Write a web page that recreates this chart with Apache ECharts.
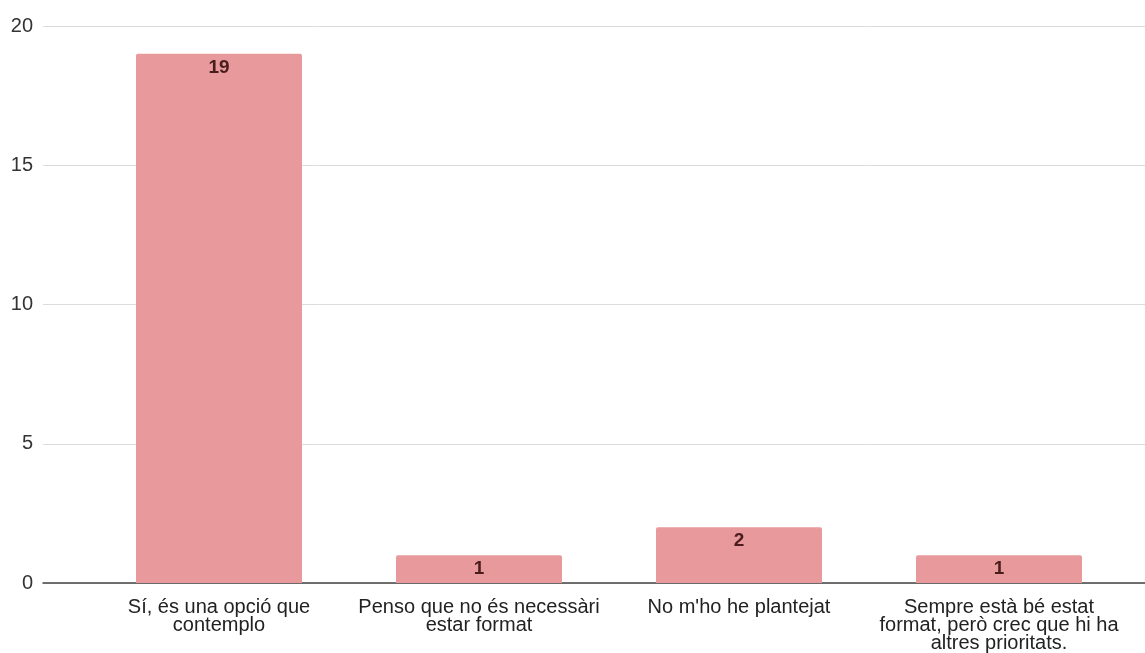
<!DOCTYPE html>
<html><head><meta charset="utf-8">
<script src="https://cdn.jsdelivr.net/npm/echarts@6/dist/echarts.min.js"></script>
<style>html,body{margin:0;padding:0;background:#fff}#c{width:1145px;height:653px}</style>
</head><body><div id="c"></div>
<script>
var categories = ["Sí, és una opció que\ncontemplo", "Penso que no és necessàri\nestar format", "No m'ho he plantejat", "Sempre està bé estat\nformat, però crec que hi ha\naltres prioritats."];
var values = [19, 1, 2, 1];
var yTicks = {min: 0, max: 20, interval: 5};
var font = "'Liberation Sans', Arial, Helvetica, sans-serif";
var chart = echarts.init(document.getElementById('c'));
chart.setOption({
  animation: false,
  grid: [
    {left: 43, right: 0, top: 26, bottom: 70},
    {left: 89, right: 16, top: 26, bottom: 70}
  ],
  xAxis: [
    {gridIndex: 0, type: 'value', min: 0, max: 1, show: true, axisLine: {show: true, lineStyle: {color: '#444', width: 1.5}}, axisTick: {show: false}, axisLabel: {show: false}, splitLine: {show: false}},
    {gridIndex: 1, type: 'category', data: categories, axisLine: {show: false}, axisTick: {show: false},
      axisLabel: {color: '#222', fontFamily: font, fontSize: 20, lineHeight: 18, margin: 15, interval: 0}}
  ],
  yAxis: [
    {gridIndex: 0, type: 'value', min: yTicks.min, max: yTicks.max, interval: yTicks.interval,
      axisLine: {show: false}, axisTick: {show: false},
      axisLabel: {color: '#333', fontFamily: font, fontSize: 20, margin: 10},
      splitLine: {lineStyle: {color: '#dcdcdc', width: 1}}},
    {gridIndex: 1, type: 'value', min: yTicks.min, max: yTicks.max, show: false, splitLine: {show: false}}
  ],
  series: [{
    type: 'bar', xAxisIndex: 1, yAxisIndex: 1, data: values, barWidth: 166,
    itemStyle: {color: '#e8999b', borderRadius: [2, 2, 0, 0]},
    label: {show: true, position: 'insideTop', distance: 4, color: '#4a1c1c', fontFamily: font, fontSize: 19, fontWeight: 'bold'}
  }]
});
</script></body></html>
